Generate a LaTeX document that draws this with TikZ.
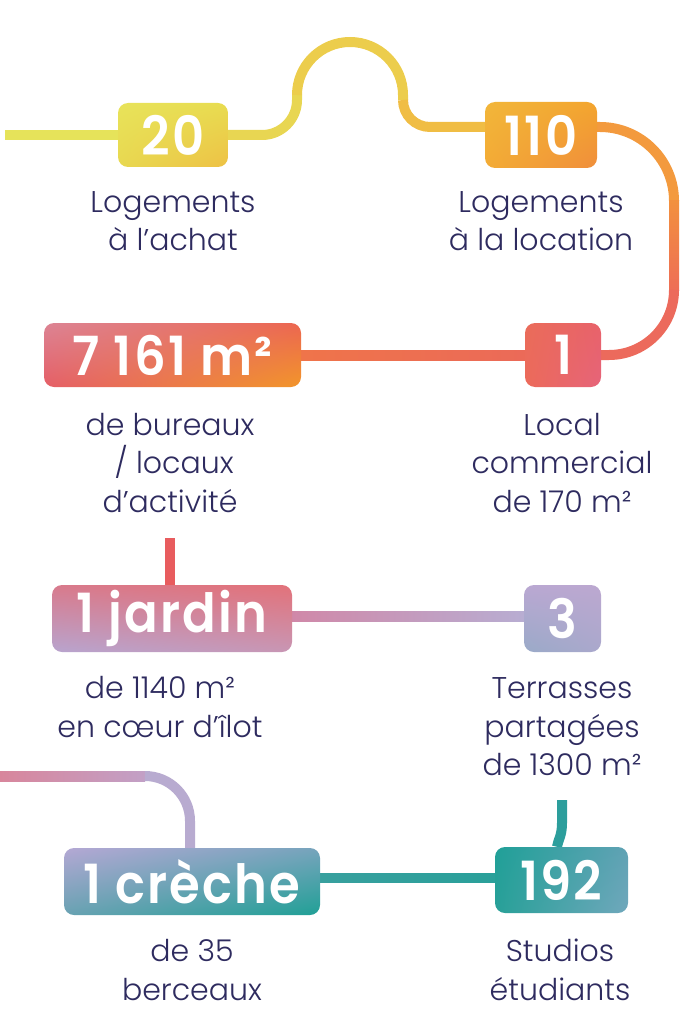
\documentclass[tikz,border=0pt]{standalone}
\usepackage{fontspec}
\setmainfont{Poppins}[UprightFont={* Light}, BoldFont={* SemiBold},
  BoldFeatures={FakeStretch=0.92, LetterSpace=4}]
\usetikzlibrary{calc,shadings}
\pgfdeclarelayer{bg}
\pgfsetlayers{bg,main}
\definecolor{txt}{HTML}{2E2B5F}
\definecolor{cA}{HTML}{E6E35A}
\definecolor{cBa}{HTML}{E8D652}
\definecolor{cBb}{HTML}{ECCD4C}
\definecolor{cBc}{HTML}{F0BD44}
\definecolor{cCa}{HTML}{F39A3E}
\definecolor{cCb}{HTML}{F2903F}
\definecolor{cCc}{HTML}{EE6E55}
\definecolor{cCd}{HTML}{EC6A5C}
\definecolor{cDa}{HTML}{EF744A}
\definecolor{cDb}{HTML}{EB6A58}
\definecolor{cE}{HTML}{E85C5E}
\definecolor{cFa}{HTML}{D088A8}
\definecolor{cFb}{HTML}{B8ADD2}
\definecolor{cGa}{HTML}{D8869C}
\definecolor{cGb}{HTML}{C2A0C6}
\definecolor{cGc}{HTML}{B8ABD0}
\definecolor{cHa}{HTML}{38A09E}
\definecolor{cHb}{HTML}{2AA09A}
\definecolor{cI}{HTML}{2C9E9C}
% box corner colours
\definecolor{aUL}{HTML}{E8E35A}\definecolor{aUR}{HTML}{E8DC50}\definecolor{aLL}{HTML}{E8D850}\definecolor{aLR}{HTML}{EEC145}
\definecolor{bUL}{HTML}{F2B63A}\definecolor{bUR}{HTML}{F3A52E}\definecolor{bLL}{HTML}{F3AB35}\definecolor{bLR}{HTML}{F08E3C}
\definecolor{cUL}{HTML}{DC8494}\definecolor{cUR}{HTML}{EC6650}\definecolor{cLL}{HTML}{E55E66}\definecolor{cLR}{HTML}{F2962A}
\definecolor{dUL}{HTML}{EA6C5A}\definecolor{dUR}{HTML}{E8626A}\definecolor{dLL}{HTML}{EC6A5A}\definecolor{dLR}{HTML}{E6647A}
\definecolor{eUL}{HTML}{D87A8C}\definecolor{eUR}{HTML}{E2727A}\definecolor{eLL}{HTML}{B8A4CE}\definecolor{eLR}{HTML}{C896B4}
\definecolor{fUL}{HTML}{BAA8D2}\definecolor{fUR}{HTML}{BCA8D0}\definecolor{fLL}{HTML}{9AAAC8}\definecolor{fLR}{HTML}{AAA8CC}
\definecolor{gUL}{HTML}{B4A8D4}\definecolor{gUR}{HTML}{76A4BC}\definecolor{gLL}{HTML}{68A2B2}\definecolor{gLR}{HTML}{20A096}
\definecolor{hUL}{HTML}{20A098}\definecolor{hUR}{HTML}{60A2B4}\definecolor{hLL}{HTML}{28A098}\definecolor{hLR}{HTML}{70A8BC}
\begin{document}
\begin{tikzpicture}[x=1pt,y=1pt,
  box/.style={rounded corners=10pt, inner sep=0pt, text=white,
    font=\fontsize{54}{54}\selectfont\bfseries},
  shd/.style={upper left=#1UL, upper right=#1UR, lower left=#1LL, lower right=#1LR},
  lbl/.style={text=txt, align=center, inner sep=0pt,
    font=\fontsize{30}{38.5}\selectfont},
  ln/.style={line width=10pt}]
\useasboundingbox (0,0) rectangle (698,-1024);

% boxes
\node[box, shd=a, minimum width=110pt, minimum height=64pt] (b20) at (173,-135) {20};
\node[box, shd=b, minimum width=112pt, minimum height=66pt] (b110) at (541,-135) {110};
\node[box, shd=c, minimum width=257pt, minimum height=64pt] (b7161) at (172.5,-355) {7 161 m²};
\node[box, shd=d, minimum width=76pt, minimum height=64pt] (b1) at (563,-355) {1};
\node[box, shd=e, minimum width=240pt, minimum height=67pt] (bjar) at (172,-618.5) {1 jardin};
\node[box, shd=f, minimum width=77pt, minimum height=67pt] (b3) at (562.5,-618.5) {3};
\node[box, shd=g, minimum width=256pt, minimum height=67pt] (bcre) at (192,-881.5) {1 crèche};
\node[box, shd=h, minimum width=133pt, minimum height=66pt] (b192) at (561.5,-880) {192};

% labels
\node[lbl] (l20) at (173,-221) {Logements\\à l’achat};
\node[lbl] (l110) at (541,-221) {Logements\\à la location};
\node[lbl] (l7161) at (170,-463) {de bureaux\\\ / locaux\\d’activité};
\node[lbl] (l1) at (562,-463) {Local\\commercial\\de 170 m²};
\node[lbl] (ljar) at (160,-707) {de 1140 m²\\en cœur d’îlot};
\node[lbl] (l3) at (562,-727) {Terrasses\\partagées\\de 1300 m²};
\node[lbl] (lcre) at (192,-970) {de 35\\berceaux};
\node[lbl] (l192) at (560,-970) {Studios\\étudiants};

\coordinate (s0) at (5,-135);
\coordinate (e0) at (170,-538);
\coordinate (g0) at (0,-776);
\coordinate (i0) at (562,-800);

\begin{pgfonlayer}{bg}
\draw[ln,cA] (s0) -- (b20.west);
\draw[ln,cBa] (b20.east) -- (262,-135) arc[start angle=-90,end angle=0,radius=35] -- (297,-95);
\draw[ln,cBb] (297,-95) arc[start angle=180,end angle=0,radius=53] -- (403,-100);
\draw[ln,cBc] (403,-100) arc[start angle=180,end angle=270,radius=27] -- ([yshift=8pt]b110.west);
\draw[ln,cCa] ([yshift=8pt]b110.east) -- (600,-127) arc[start angle=90,end angle=0,radius=74];
\shade[top color=cCb, bottom color=cCc] (669,-201) rectangle (679,-290);
\draw[ln,cCd] (674,-290) arc[start angle=0,end angle=-90,radius=65] -- (b1.east);
\shade[left color=cDa, right color=cDb] ($(b7161.east)+(0,5)$) rectangle ($(b1.west)+(0,-5)$);
\draw[ln,cE] (e0) -- (e0 |- bjar.north);
\shade[left color=cFa, right color=cFb] ($(bjar.east)+(0,7)$) rectangle ($(b3.west)+(0,-3)$);
\shade[left color=cGa, right color=cGb] ($(g0)+(0,5)$) rectangle (145,-781);
\draw[ln,cGc] (145,-776) arc[start angle=90,end angle=0,radius=45] -- (190,-821) -- (190,-848);
\shade[left color=cHa, right color=cHb] ($(bcre.east)+(0,8)$) rectangle ($(b192.west)+(0,-2)$);
\draw[ln,cI] (i0) -- (562,-823) .. controls (562,-836) and (558,-840) .. ($(b192.north)+(-4.5,0)$);
\end{pgfonlayer}
\end{tikzpicture}
\end{document}
